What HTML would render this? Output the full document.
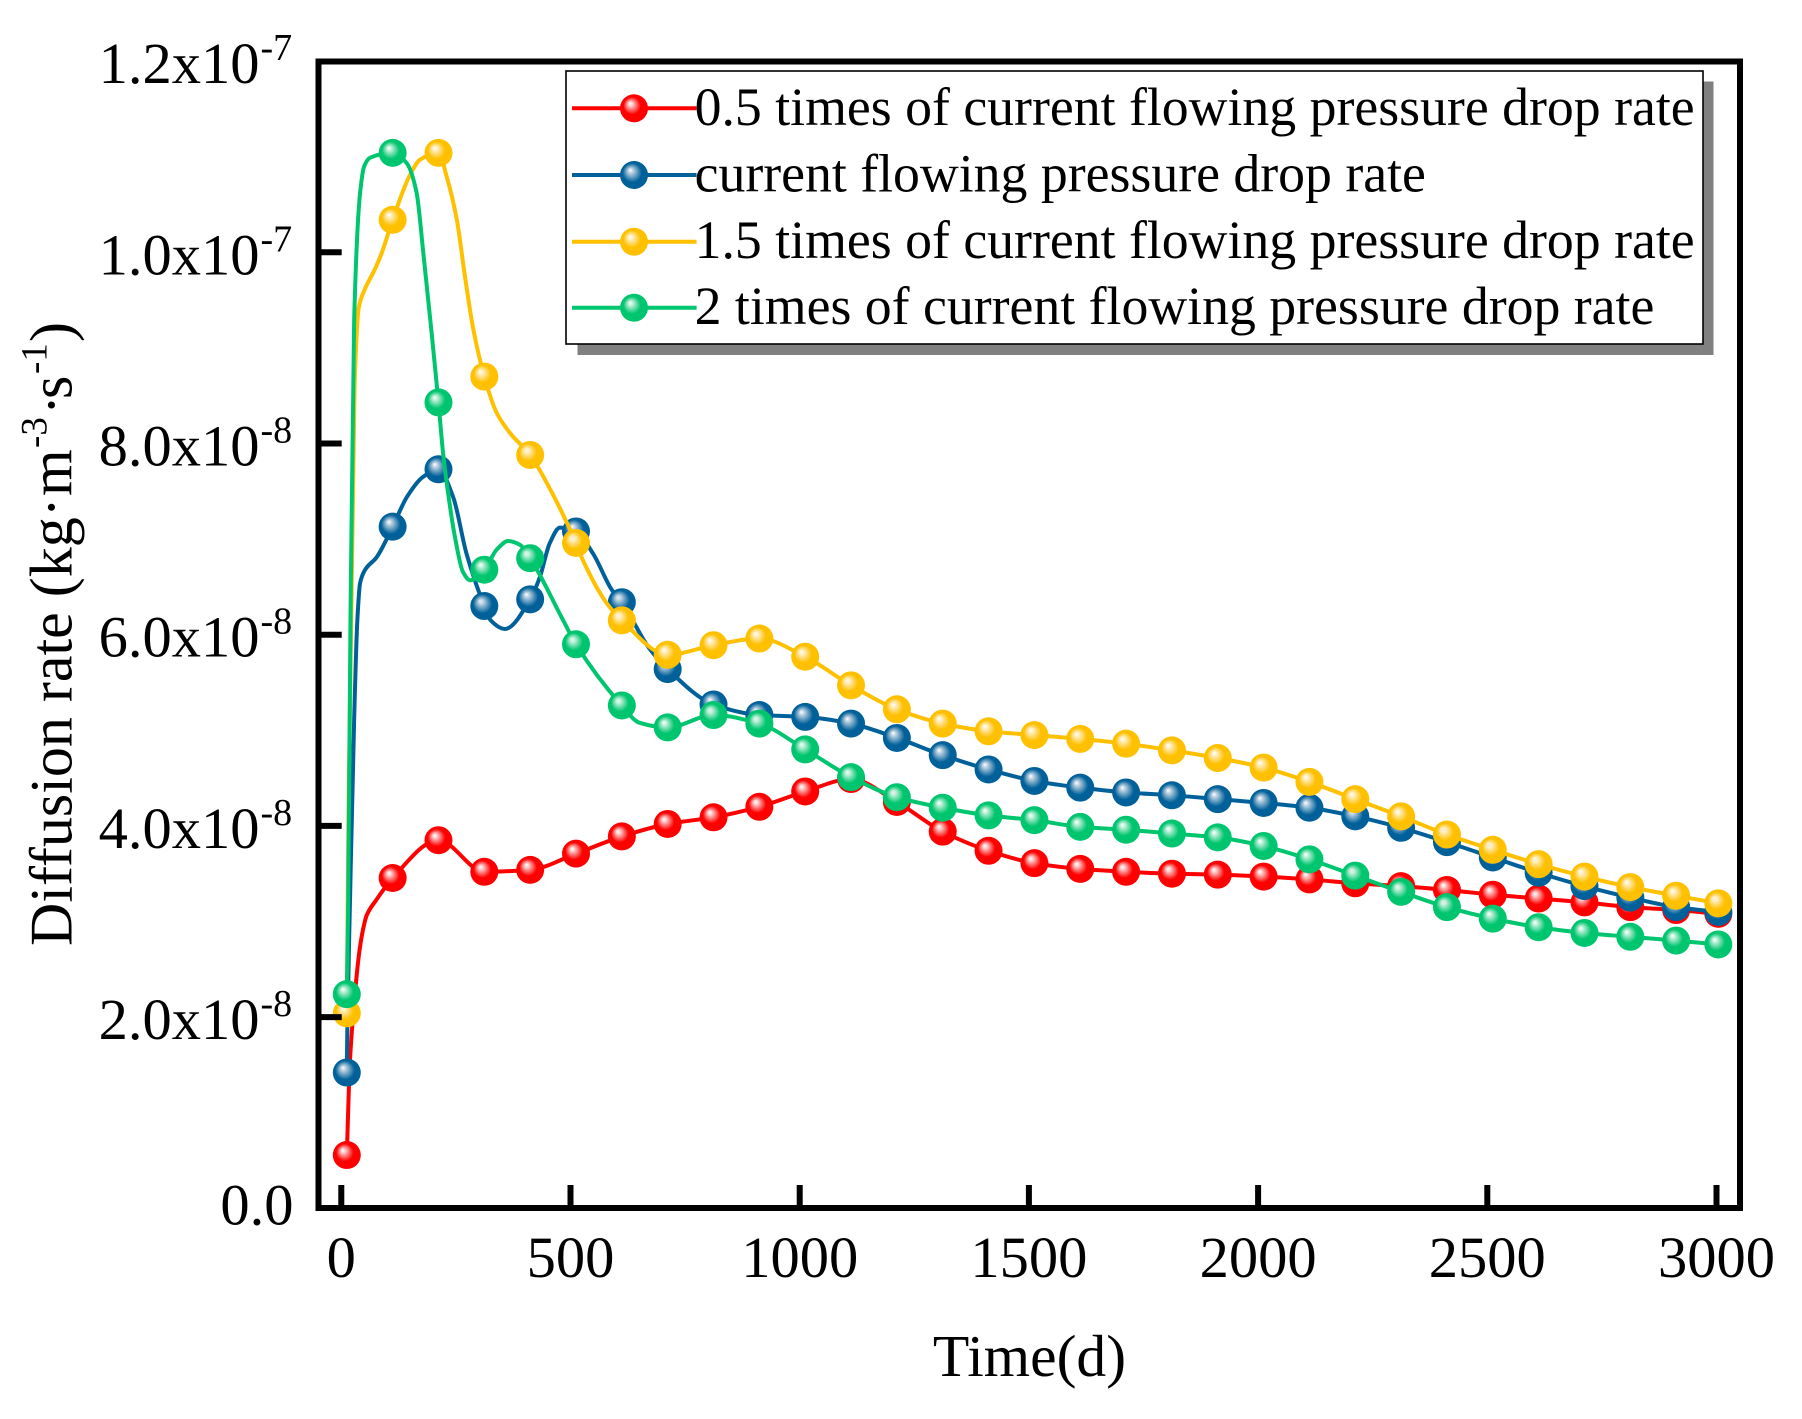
<!DOCTYPE html>
<html lang="en">
<head>
<meta charset="utf-8">
<title>Diffusion rate over time</title>
<style>
html,body{margin:0;padding:0;background:#fff;}
svg{display:block;}
text{font-family:"Liberation Serif","Times New Roman",serif;fill:#000;}
</style>
</head>
<body>
<svg id="chart" xmlns="http://www.w3.org/2000/svg" width="1802" height="1419" viewBox="0 0 1802 1419">
  <defs>
    <radialGradient id="ball-red" cx="0.5" cy="0.5" r="0.62" fx="0.36" fy="0.32"><stop offset="0" stop-color="#ffffff" stop-opacity="0.85"/><stop offset="0.12" stop-color="#ffd0d0"/><stop offset="0.5" stop-color="#ff0000"/><stop offset="1" stop-color="#ff0000"/></radialGradient>
    <radialGradient id="ball-blue" cx="0.5" cy="0.5" r="0.62" fx="0.36" fy="0.32"><stop offset="0" stop-color="#ffffff" stop-opacity="0.85"/><stop offset="0.12" stop-color="#c8d8e6"/><stop offset="0.55" stop-color="#00619a"/><stop offset="1" stop-color="#00619a"/></radialGradient>
    <radialGradient id="ball-yellow" cx="0.5" cy="0.5" r="0.62" fx="0.36" fy="0.32"><stop offset="0" stop-color="#ffffff" stop-opacity="0.85"/><stop offset="0.12" stop-color="#fff0c8"/><stop offset="0.5" stop-color="#ffc000"/><stop offset="1" stop-color="#ffc000"/></radialGradient>
    <radialGradient id="ball-green" cx="0.5" cy="0.5" r="0.62" fx="0.36" fy="0.32"><stop offset="0" stop-color="#ffffff" stop-opacity="0.85"/><stop offset="0.12" stop-color="#c8f2de"/><stop offset="0.5" stop-color="#00c56f"/><stop offset="1" stop-color="#00c56f"/></radialGradient>
  </defs>

  <g id="series-layer"></g>

  <rect x="318.5" y="61.5" width="1421.5" height="1146.5" fill="none" stroke="#000" stroke-width="6"/>
  <g id="tick-layer"></g>

  <text x="1029.5" y="1376" font-size="59.6" text-anchor="middle">Time(d)</text>
  <text transform="translate(71.5,946) rotate(-90)" font-size="60">Diffusion rate (kg·<tspan x="450">m</tspan><tspan x="498" font-size="37" dy="-25">-3</tspan><tspan x="531" dy="25">·</tspan><tspan x="547">s</tspan><tspan x="572" font-size="37" dy="-25">-1</tspan><tspan x="604" dy="25">)</tspan></text>

  <g>
    <rect x="577.5" y="81.5" width="1136" height="273.5" fill="#808080"/>
    <rect x="566" y="71" width="1137" height="273" fill="#fff" stroke="#000" stroke-width="1.6"/>
    <g id="legend-keys"></g>
    <text x="694.6" y="125" font-size="53.75">0.5 times of current flowing pressure drop rate</text>
    <text x="694.6" y="191.5" font-size="53.75">current flowing pressure drop rate</text>
    <text x="694.6" y="258" font-size="53.75">1.5 times of current flowing pressure drop rate</text>
    <text x="694.6" y="324" font-size="53.75">2 times of current flowing pressure drop rate</text>
  </g>
</svg>

<script>
// Marker days (x values for every plotted ball)
const markerDays = [12,112,212,312,412,512,612,712,812,912,1012,1112,1212,1312,1412,1512,1612,1712,1812,1912,2012,2112,2212,2312,2412,2512,2612,2712,2812,2912,3004];

// Series values at the marker days, in units of 1e-8 kg·m-3·s-1
const halfRateValues = [0.557,3.455,3.85,3.52,3.54,3.71,3.89,4.02,4.09,4.20,4.36,4.49,4.25,3.94,3.74,3.61,3.55,3.52,3.50,3.49,3.47,3.44,3.40,3.37,3.33,3.28,3.24,3.20,3.15,3.12,3.08];
const currentRateValues = [1.42,7.13,7.73,6.30,6.37,7.08,6.34,5.64,5.27,5.16,5.14,5.07,4.92,4.74,4.59,4.47,4.40,4.35,4.32,4.28,4.24,4.19,4.10,3.98,3.83,3.67,3.51,3.37,3.25,3.15,3.10];
const onePointFiveRateValues = [2.04,10.34,11.04,8.70,7.88,6.96,6.15,5.79,5.89,5.96,5.77,5.47,5.22,5.07,4.99,4.95,4.91,4.86,4.79,4.71,4.61,4.46,4.28,4.10,3.91,3.75,3.60,3.47,3.36,3.27,3.19];
const doubleRateValues = [2.24,11.04,8.43,6.68,6.80,5.90,5.26,5.03,5.16,5.07,4.80,4.51,4.30,4.19,4.11,4.06,3.99,3.96,3.92,3.88,3.79,3.65,3.48,3.31,3.15,3.03,2.94,2.88,2.84,2.80,2.76];

// Unmarked samples the curves also pass through
const halfRateCurveDays = [19,30,36,41,48,55,77];
const halfRateCurveValues = [1.55,2.25,2.55,2.74,2.93,3.06,3.23];
const currentRateCurveDays = [13,19,28,35,41,52,77,143,178,244,273,326,357,433,455,477,549,590,670];
const currentRateCurveValues = [1.83,3.22,5.11,6.15,6.54,6.68,6.81,7.44,7.65,7.44,6.85,6.15,6.06,6.60,6.96,7.12,6.85,6.47,5.87];
const onePointFiveRateCurveDays = [16,29,38,51,73,88,150,172,230,252,270,287,339,368,448,527,579];
const onePointFiveRateCurveValues = [4.27,8.62,9.42,9.61,9.82,9.99,10.81,10.97,10.79,10.34,9.74,9.22,8.32,8.11,7.59,6.78,6.33];
const doubleRateCurveDays = [15,20,28,41,50,63,143,164,179,197,222,233,248,266,281,339,364,390,484,650];
const doubleRateCurveValues = [3.2,6.15,9.29,10.62,10.90,10.99,10.93,10.63,9.99,9.16,7.90,7.48,7.02,6.65,6.57,6.89,6.98,6.94,6.15,5.08];

// Axis ticks
const xTickValues = [0,500,1000,1500,2000,2500,3000];
const xTickLabels = ['0','500','1000','1500','2000','2500','3000'];
const yTickValues = [0,2,4,6,8,10,12];
const yTickLabels = ['0.0','2.0x10','4.0x10','6.0x10','8.0x10','1.0x10','1.2x10'];
const yTickExponents = ['','-8','-8','-8','-8','-7','-7'];

// Axis functions
function xScale(day){ return 341.3 + day * (1716.5 - 341.3) / 3000; }
function yScale(value){ return 1208.3 - value * (1208.3 - 61.1) / 12; }

const NS = 'http://www.w3.org/2000/svg';
function make(tag, attrs, parent){
  const el = document.createElementNS(NS, tag);
  for (const k in attrs) el.setAttribute(k, attrs[k]);
  parent.appendChild(el);
  return el;
}

// Monotone cubic path through x-sorted points
function curvePath(pts){
  const n = pts.length, dx = [], sl = [], m = [];
  for (let i = 0; i < n - 1; i++){
    dx[i] = pts[i+1][0] - pts[i][0];
    sl[i] = (pts[i+1][1] - pts[i][1]) / dx[i];
  }
  m[0] = sl[0];
  m[n-1] = sl[n-2];
  for (let i = 1; i < n - 1; i++){
    if (sl[i-1] * sl[i] <= 0) m[i] = 0;
    else {
      const w1 = 2 * dx[i] + dx[i-1], w2 = dx[i] + 2 * dx[i-1];
      m[i] = (w1 + w2) / (w1 / sl[i-1] + w2 / sl[i]);
    }
  }
  let d = 'M' + pts[0][0].toFixed(2) + ' ' + pts[0][1].toFixed(2);
  for (let i = 0; i < n - 1; i++){
    const h = dx[i] / 3;
    d += 'C' + (pts[i][0] + h).toFixed(2) + ' ' + (pts[i][1] + m[i] * h).toFixed(2) + ' ' +
         (pts[i+1][0] - h).toFixed(2) + ' ' + (pts[i+1][1] - m[i+1] * h).toFixed(2) + ' ' +
         pts[i+1][0].toFixed(2) + ' ' + pts[i+1][1].toFixed(2);
  }
  return d;
}

const seriesList = [
  {key:'half-rate', color:'#ff0000', ball:'ball-red', values:halfRateValues, curveDays:halfRateCurveDays, curveValues:halfRateCurveValues, keyY:108.3},
  {key:'current-rate', color:'#00619a', ball:'ball-blue', values:currentRateValues, curveDays:currentRateCurveDays, curveValues:currentRateCurveValues, keyY:175},
  {key:'1-5x-rate', color:'#ffc000', ball:'ball-yellow', values:onePointFiveRateValues, curveDays:onePointFiveRateCurveDays, curveValues:onePointFiveRateCurveValues, keyY:241.7},
  {key:'2x-rate', color:'#00c56f', ball:'ball-green', values:doubleRateValues, curveDays:doubleRateCurveDays, curveValues:doubleRateCurveValues, keyY:307.7}
];

const seriesLayer = document.getElementById('series-layer');
const legendKeys = document.getElementById('legend-keys');
const tickLayer = document.getElementById('tick-layer');
const chart = document.getElementById('chart');

seriesList.forEach(function(s){
  const group = make('g', {}, seriesLayer);
  
  

  const knots = [];
  markerDays.forEach(function(d, i){ knots.push([d, s.values[i]]); });
  s.curveDays.forEach(function(d, i){ knots.push([d, s.curveValues[i]]); });
  knots.sort(function(a, b){ return a[0] - b[0]; });
  const pts = knots.map(function(k){ return [xScale(k[0]), yScale(k[1])]; });

  const line = make('path', {d:curvePath(pts), fill:'none', stroke:s.color, 'stroke-width':4, 'stroke-linejoin':'round'}, group);
  
  

  markerDays.forEach(function(d, i){
    const dot = make('circle', {cx:xScale(d), cy:yScale(s.values[i]), r:14, fill:'url(#' + s.ball + ')'}, group);
    
    
  });

  const keyLine = make('line', {x1:572, x2:696.6, y1:s.keyY, y2:s.keyY, stroke:s.color, 'stroke-width':4}, legendKeys);
  
  

  const keyDot = make('circle', {cx:634, cy:s.keyY, r:14, fill:'url(#' + s.ball + ')'}, legendKeys);
  
  
});

xTickValues.forEach(function(v, i){
  const x = xScale(v);
  const tick = make('line', {x1:x, x2:x, y1:1185, y2:1208, stroke:'#000', 'stroke-width':6}, tickLayer);
  
  

  const label = make('text', {x:x, y:1277, 'font-size':58.5, 'text-anchor':'middle'}, chart);
  label.textContent = xTickLabels[i];
  
  
});

yTickValues.forEach(function(v, i){
  const y = yScale(v);
  if (v > 0 && v < 12){
    const tick = make('line', {x1:318, x2:341.7, y1:y, y2:y, stroke:'#000', 'stroke-width':6}, tickLayer);
    
    
  }

  const hasExp = yTickExponents[i] !== '';
  const label = make('text', {x:hasExp ? 259.5 : 293.5, y:hasExp ? y + 22 : y + 16, 'font-size':58.5, 'text-anchor':'end'}, chart);
  label.textContent = yTickLabels[i];
  
  

  if (hasExp){
    const exp = make('text', {x:260.5, y:y - 1, 'font-size':38}, chart);
    exp.textContent = yTickExponents[i];
    
    
  }
});
</script>
</body>
</html>
